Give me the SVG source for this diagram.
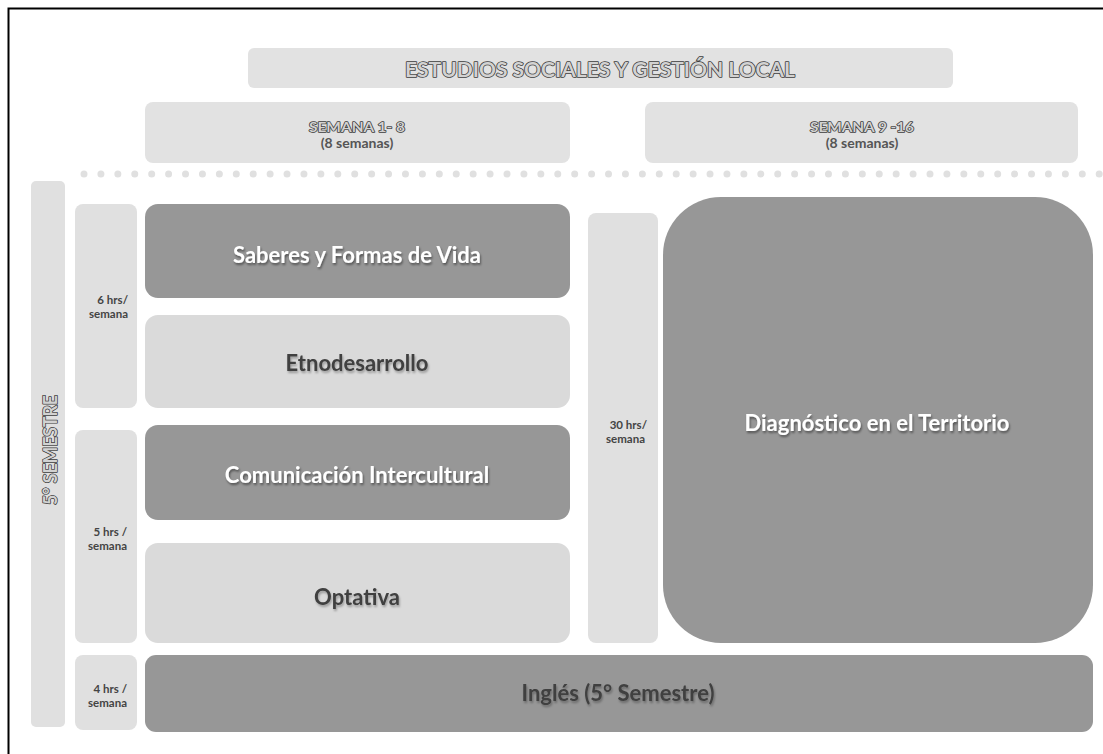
<svg xmlns="http://www.w3.org/2000/svg" width="1103" height="754" viewBox="0 0 1103 754">
<defs>
<filter id="sh" x="-10%" y="-30%" width="120%" height="160%">
<feDropShadow dx="1" dy="2" stdDeviation="1" flood-color="#000" flood-opacity="0.45"/>
</filter>
<filter id="shl" x="-10%" y="-30%" width="120%" height="160%">
<feDropShadow dx="1" dy="2" stdDeviation="1" flood-color="#000" flood-opacity="0.3"/>
</filter>
</defs>
<style>
.hdr{fill:#e2e2e2}
.lt{fill:#e0e0e0}
.lc{fill:#dadada}
.dk{fill:#979797}
.t{font-family:Lato,"Open Sans",sans-serif;font-weight:bold}
.out{fill:#d2d2d2;stroke:#3c3c3c;stroke-width:1.5;paint-order:stroke;stroke-linejoin:round}
.wt{fill:#fff;font-size:22px}
.gt{fill:#3f3f3f;font-size:22px}
.hrs{fill:#444;font-size:11.5px}
.sub{fill:#555;font-size:14px}
</style>
<rect width="1103" height="754" fill="#fff"/>
<path d="M8.5 754 V8.5 H1103" fill="none" stroke="#000" stroke-width="2"/>

<g id="title">
<rect class="hdr" x="248" y="48" width="705" height="40" rx="6"/>
<text class="t out" x="600" y="77" text-anchor="middle" font-size="20" textLength="390" lengthAdjust="spacingAndGlyphs">ESTUDIOS SOCIALES Y GESTIÓN LOCAL</text>
</g>
<g id="semana1">
<rect class="hdr" x="145" y="102" width="425" height="61" rx="8"/>
<text class="t out" x="357" y="132" text-anchor="middle" font-size="14" textLength="96" lengthAdjust="spacingAndGlyphs">SEMANA 1- 8</text>
<text class="t sub" x="357" y="148" text-anchor="middle">(8 semanas)</text>
</g>
<g id="semana2">
<rect class="hdr" x="645" y="102" width="433" height="61" rx="8"/>
<text class="t out" x="862" y="132" text-anchor="middle" font-size="14" textLength="104" lengthAdjust="spacingAndGlyphs">SEMANA 9 -16</text>
<text class="t sub" x="862" y="148" text-anchor="middle">(8 semanas)</text>
</g>
<g id="dots">
<line x1="84" y1="174" x2="1103" y2="174" stroke="#e0e0e0" stroke-width="7" stroke-linecap="round" stroke-dasharray="0 16.92"/>
</g>
<g id="semestre">
<rect class="lt" x="31" y="181" width="34" height="546" rx="5"/>
<text class="t out" transform="translate(57,450) rotate(-90)" text-anchor="middle" font-size="19" textLength="110" lengthAdjust="spacingAndGlyphs">5° SEMESTRE</text>
</g>
<g id="h6">
<rect class="lt" x="75" y="204" width="62" height="204" rx="8"/>
<text class="t hrs" x="128" y="304" text-anchor="end">6 hrs/</text>
<text class="t hrs" x="128" y="318" text-anchor="end">semana</text>
</g>
<g id="h5">
<rect class="lt" x="75" y="430" width="62" height="213" rx="8"/>
<text class="t hrs" x="127" y="536" text-anchor="end">5 hrs /</text>
<text class="t hrs" x="127" y="550" text-anchor="end">semana</text>
</g>
<g id="h4">
<rect class="lt" x="75" y="655" width="62" height="75" rx="8"/>
<text class="t hrs" x="127" y="693" text-anchor="end">4 hrs /</text>
<text class="t hrs" x="127" y="707" text-anchor="end">semana</text>
</g>
<g id="saberes">
<rect class="dk" x="145" y="204" width="425" height="94" rx="13"/>
<text class="t wt" x="357" y="263" text-anchor="middle" filter="url(#sh)">Saberes y Formas de Vida</text>
</g>
<g id="etno">
<rect class="lc" x="145" y="315" width="425" height="93" rx="13"/>
<text class="t gt" x="357" y="371" text-anchor="middle" filter="url(#shl)">Etnodesarrollo</text>
</g>
<g id="comunicacion">
<rect class="dk" x="145" y="425" width="425" height="95" rx="13"/>
<text class="t wt" x="357" y="483" text-anchor="middle" filter="url(#sh)">Comunicación Intercultural</text>
</g>
<g id="optativa">
<rect class="lc" x="145" y="543" width="425" height="100" rx="13"/>
<text class="t gt" x="357" y="605" text-anchor="middle" filter="url(#shl)">Optativa</text>
</g>
<g id="h30">
<rect class="lt" x="588" y="213" width="70" height="430" rx="8"/>
<text class="t hrs" x="647" y="429" text-anchor="end">30 hrs/</text>
<text class="t hrs" x="645" y="443" text-anchor="end">semana</text>
</g>
<g id="diagnostico">
<rect class="dk" x="663" y="197" width="430" height="446" rx="58"/>
<text class="t wt" x="877" y="431" text-anchor="middle" filter="url(#sh)">Diagnóstico en el Territorio</text>
</g>
<g id="ingles">
<rect class="dk" x="145" y="655" width="948" height="77" rx="11"/>
<text class="t gt" x="618" y="701" text-anchor="middle" filter="url(#shl)">Inglés (5° Semestre)</text>
</g>
</svg>
